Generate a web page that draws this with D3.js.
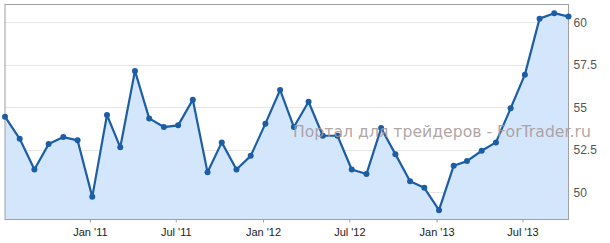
<!DOCTYPE html>
<html><head><meta charset="utf-8">
<script src="https://cdn.jsdelivr.net/npm/d3@7"></script>
<style>html,body{margin:0;padding:0;background:#fff;}svg{display:block;}</style>
</head><body>
<svg id="c" width="610" height="243"></svg>
<script>
const startMonth = "2010-07";
const values = [54.45,53.15,51.35,52.84,53.25,53.06,
  49.74,54.55,52.65,57.14,54.35,53.84,53.94,55.45,51.18,52.94,51.35,52.15,
  54.04,56.02,53.84,55.33,53.33,53.33,51.35,51.08,53.78,52.25,50.66,50.27,
  48.96,51.57,51.84,52.45,52.94,54.94,56.92,60.21,60.53,60.33];
const yTicks = [50, 52.5, 55, 57.5, 60];
const xTickLabels = ["Jan '11","Jul '11","Jan '12","Jul '12","Jan '13","Jul '13"];
const xTickDates = ["2011-01-01","2011-07-01","2012-01-01","2012-07-01","2013-01-01","2013-07-01"];
const watermark = "Портал для трейдеров - ForTrader.ru";

const parse = d3.timeParse("%Y-%m-%d");
const dates = values.map((v,i)=>{const d=parse(startMonth+"-06"); d.setMonth(d.getMonth()+i); return d;});
const data = values.map((v,i)=>({date:dates[i], v}));

const L=5, R=568.5, T=4.5, B=219.5;
const svg = d3.select("#c");
const x = d3.scaleTime().domain(d3.extent(dates)).range([L,R]);
const y = d3.scaleLinear().domain([48.41,61.04]).range([B,T]);

// gridlines
svg.append("g").selectAll("line").data(yTicks).join("line")
  .attr("x1",L).attr("x2",R).attr("y1",d=>Math.round(y(d))+0.5).attr("y2",d=>Math.round(y(d))+0.5)
  .attr("stroke","#e6e6e6").attr("stroke-width",1);

// area
svg.append("path").datum(data)
  .attr("d", d3.area().x(d=>x(d.date)).y0(B).y1(d=>y(d.v)))
  .attr("fill","#d3e6fc");

// border
svg.append("rect").attr("x",L).attr("y",T).attr("width",R-L).attr("height",B-T)
  .attr("fill","none").attr("stroke","#a0a0a0").attr("stroke-width",1);

// x axis
const xt = xTickDates.map(parse);
const xAxis = d3.axisBottom(x).tickValues(xt).tickSize(3).tickSizeOuter(0)
  .tickFormat((d,i)=>xTickLabels[i]);
const gx = svg.append("g").attr("transform",`translate(0,${B})`).call(xAxis);
gx.select(".domain").remove();
gx.selectAll(".tick line").attr("stroke","#a0a0a0");
gx.selectAll(".tick text").attr("fill","#222").attr("font-family","Liberation Sans, Arial, sans-serif")
  .attr("font-size","11px").attr("dy","0.95em");

// y axis right
const yAxis = d3.axisRight(y).tickValues(yTicks).tickSize(0).tickFormat(d=>d3.format("")(d));
const gy = svg.append("g").attr("transform",`translate(${R+3},0)`).call(yAxis);
gy.select(".domain").remove();
gy.selectAll(".tick text").attr("fill","#555").attr("font-family","Liberation Sans, Arial, sans-serif")
  .attr("font-size","12px").attr("x",2);

// line
svg.append("path").datum(data)
  .attr("d", d3.line().x(d=>x(d.date)).y(d=>y(d.v)))
  .attr("fill","none").attr("stroke","#1c5ea6").attr("stroke-width",2.2).attr("stroke-linejoin","round");

svg.append("g").selectAll("circle").data(data).join("circle")
  .attr("cx",d=>x(d.date)).attr("cy",d=>y(d.v)).attr("r",3)
  .attr("fill","#1c5ea6");

// watermark
const wm = svg.append("text").attr("x",293).attr("y",137).text(watermark)
  .attr("font-family","DejaVu Sans, Verdana, sans-serif").attr("font-size","15px")
  .attr("fill","#a89a9a").attr("fill-opacity",0.9);
const len = wm.node().getComputedTextLength();
wm.attr("font-size", (15*298/len).toFixed(2)+"px");
</script>
</body></html>
